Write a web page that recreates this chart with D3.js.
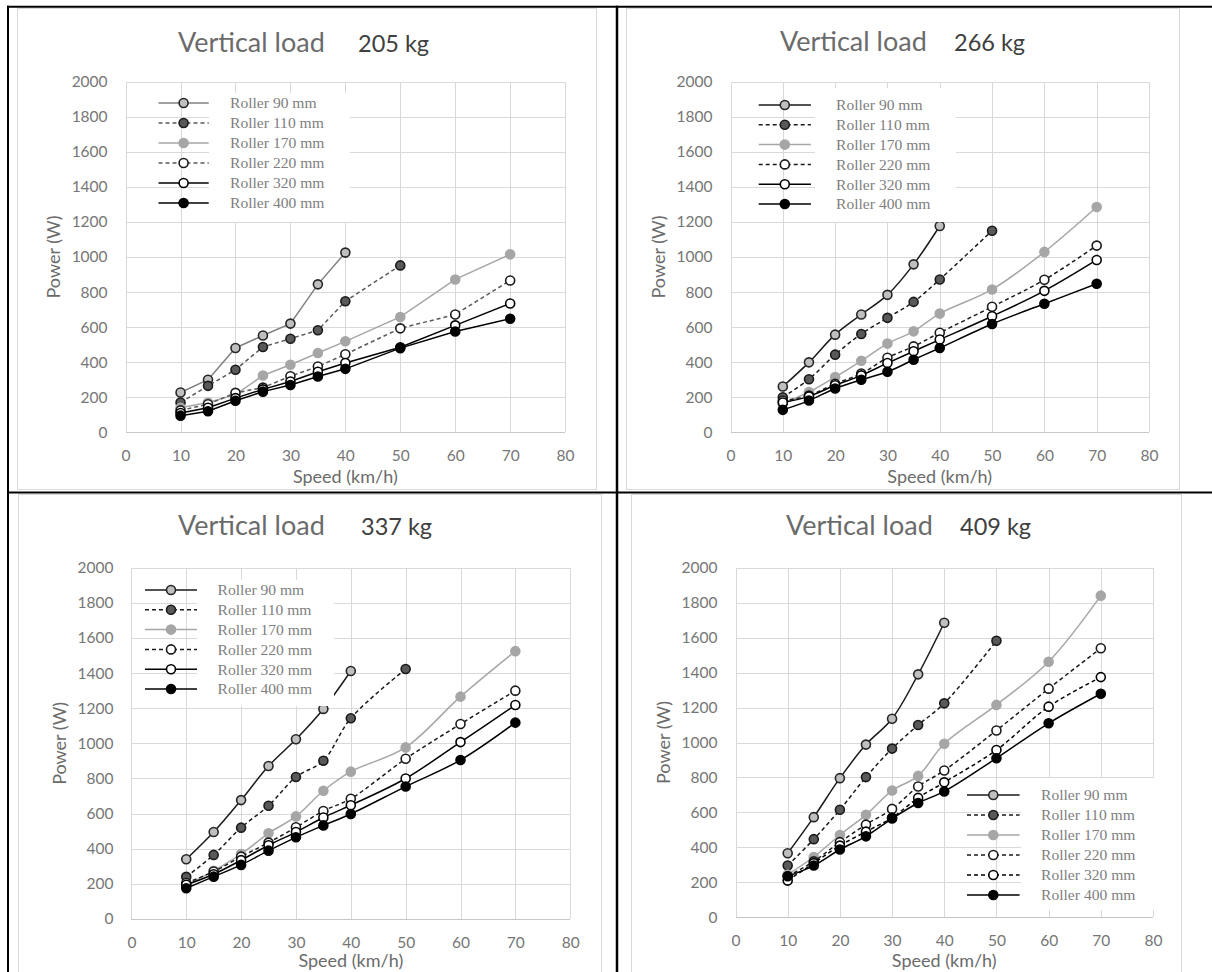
<!DOCTYPE html>
<html>
<head>
<meta charset="utf-8">
<script src="https://cdn.jsdelivr.net/npm/d3@7"></script>
<style>
  body { margin: 0; background: #fff; }
  svg { display: block; }
  .tick text { font-family: Lato, "Open Sans", sans-serif; font-size: 15.5px; fill: #767676; }
  .tick line { stroke: #d9d9d9; shape-rendering: crispEdges; }
  .axis-title { font-family: Lato, "Open Sans", sans-serif; font-size: 18px; fill: #6b6b6b; }
  .legend text { font-family: "Liberation Serif", "Times New Roman", serif; font-size: 15.6px; fill: #7f7f7f; }
</style>
</head>
<body>
<svg id="chart" width="1212" height="972"></svg>
<script>
var speed = [10, 15, 20, 25, 30, 35, 40, 50, 60, 70];
var rollers = ['Roller 90 mm', 'Roller 110 mm', 'Roller 170 mm', 'Roller 220 mm', 'Roller 320 mm', 'Roller 400 mm'];
var loadLabels = ['205 kg', '266 kg', '337 kg', '409 kg'];
var xTicks = [0, 10, 20, 30, 40, 50, 60, 70, 80];
var yTicks = [0, 200, 400, 600, 800, 1000, 1200, 1400, 1600, 1800, 2000];

// power (W) per roller, one row per roller (90 mm stops at 40 km/h, 110 mm at 50 km/h)
var power205 = [
  [227, 300, 481, 552, 620, 844, 1025],
  [170, 265, 357, 487, 534, 582, 748, 952],
  [140, 170, 215, 324, 385, 452, 519, 658, 872, 1015],
  [125, 160, 225, 255, 320, 375, 445, 593, 672, 866],
  [110, 140, 195, 245, 290, 345, 395, 485, 610, 735],
  [95, 120, 180, 232, 270, 318, 362, 480, 575, 648]
];
var power266 = [
  [261, 399, 557, 672, 784, 958, 1177],
  [200, 303, 443, 561, 653, 744, 872, 1150],
  [165, 230, 315, 408, 506, 576, 677, 815, 1029, 1285],
  [180, 210, 277, 335, 425, 490, 568, 716, 870, 1065],
  [170, 205, 268, 325, 395, 462, 529, 662, 807, 983],
  [128, 181, 250, 300, 345, 414, 481, 618, 733, 847]
];
var power337 = [
  [340, 495, 677, 871, 1023, 1196, 1412],
  [240, 365, 520, 645, 808, 901, 1143, 1423],
  [190, 275, 370, 488, 584, 730, 839, 977, 1266, 1525],
  [205, 270, 355, 435, 522, 615, 685, 912, 1110, 1300],
  [195, 255, 335, 420, 495, 578, 648, 800, 1007, 1218],
  [175, 241, 308, 389, 465, 533, 598, 754, 905, 1118]
];
var power409 = [
  [366, 573, 796, 988, 1136, 1390, 1685],
  [296, 447, 615, 802, 965, 1100, 1224, 1582],
  [245, 345, 471, 586, 725, 809, 993, 1215, 1462, 1840],
  [235, 320, 430, 530, 620, 748, 840, 1069, 1308, 1539],
  [210, 310, 410, 490, 570, 683, 772, 957, 1205, 1374],
  [235, 296, 388, 463, 565, 654, 720, 910, 1110, 1279]
];
var powerByLoad = [power205, power266, power337, power409];

// where each chart sits on the page
var panels = [
  { box: [17.5, 8.5, 596.5, 489.5], plot: [125.6, 81.7, 565.1, 432.3], title: [178, 358, 51.5], axY: 477,
    legend: { x0: 158.5, x1: 208.7, tx: 230, y: 103, dy: 20, cover: [209, 93, 350, 222] }, smooth: false },
  { box: [626.5, 8.5, 1179.5, 489.5], plot: [730.5, 81.7, 1149, 432.3], title: [780, 954, 50.5], axY: 477,
    legend: { x0: 758.7, x1: 810.9, tx: 836, y: 105, dy: 19.8, cover: [815, 88, 956, 222] }, smooth: true },
  { box: [18.5, 494.5, 601.5, 985], plot: [131.4, 567.7, 570.2, 919], title: [178, 361, 534.5], axY: 961,
    legend: { x0: 145, x1: 197, tx: 217.6, y: 590, dy: 19.8, cover: [197, 580, 334, 706] }, smooth: true },
  { box: [631.5, 494.5, 1181.5, 985], plot: [735.5, 567.7, 1153, 917.3], title: [786, 960, 535], axY: 961,
    legend: { x0: 967, x1: 1019.6, tx: 1041, y: 795, dy: 20, cover: [1021, 778, 1160, 910] }, smooth: true }
];

function seriesStyle(p, i) {
  var base = [
    { stroke: '#1a1a1a', dash: null, fill: '#bfbfbf', ring: '#262626' },
    { stroke: '#1a1a1a', dash: '4,3', fill: '#595959', ring: '#1a1a1a' },
    { stroke: '#a6a6a6', dash: null, fill: '#a6a6a6', ring: '#a6a6a6' },
    { stroke: '#1a1a1a', dash: '4,3', fill: '#ffffff', ring: '#1a1a1a' },
    { stroke: '#000000', dash: null, fill: '#ffffff', ring: '#000000' },
    { stroke: '#000000', dash: null, fill: '#000000', ring: '#000000' }
  ];
  var s = Object.assign({}, base[i]);
  if (p == 0) {
    if (i == 0) s.stroke = '#808080';
    if (i == 1 || i == 3) s.stroke = '#595959';
  }
  if (p == 3 && i == 4) s.dash = '4,3';
  return s;
}

var svg = d3.select('#chart');

//************************ table borders *************************/
var borders = svg.append('g').attr('stroke', '#000').attr('stroke-width', 2);
borders.append('line').attr('x1', 7).attr('x2', 1212).attr('y1', 6.7).attr('y2', 6.7);
borders.append('line').attr('x1', 8).attr('x2', 8).attr('y1', 5.7).attr('y2', 972);
borders.append('line').attr('x1', 617).attr('x2', 617).attr('y1', 5.7).attr('y2', 972).attr('stroke-width', 2.5);
borders.append('line').attr('x1', 7).attr('x2', 1212).attr('y1', 492.5).attr('y2', 492.5);

panels.forEach(function(pan, p) {
  var data = powerByLoad[p];
  var g = svg.append('g');

  g.append('rect')
    .attr('x', pan.box[0]).attr('y', pan.box[1])
    .attr('width', pan.box[2] - pan.box[0]).attr('height', pan.box[3] - pan.box[1])
    .attr('fill', '#fff').attr('stroke', '#d9d9d9').attr('stroke-width', 1);

  var x = d3.scaleLinear().domain([0, 80]).range([pan.plot[0], pan.plot[2]]);
  var y = d3.scaleLinear().domain([0, 2000]).range([pan.plot[3], pan.plot[1]]);

  //************************ gridlines + ticks *************************/
  var xAxis = g.append('g')
    .attr('transform', 'translate(0,' + pan.plot[3] + ')')
    .call(d3.axisBottom(x).tickValues(xTicks).tickFormat(d3.format('d'))
      .tickSize(-(pan.plot[3] - pan.plot[1])).tickPadding(18));
  xAxis.select('.domain').remove();

  var yAxis = g.append('g')
    .attr('transform', 'translate(' + pan.plot[0] + ',0)')
    .call(d3.axisLeft(y).tickValues(yTicks).tickFormat(d3.format('d'))
      .tickSize(-(pan.plot[2] - pan.plot[0])).tickPadding(18));
  yAxis.select('.domain').remove();
  yAxis.selectAll('.tick').filter(function(d) { return d == 0; }).select('line').style('stroke', '#c6c6c6');

  //************************ series *************************/
  var line = d3.line()
    .x(function(d) { return x(d[0]); })
    .y(function(d) { return y(d[1]); })
    .curve(pan.smooth ? d3.curveCatmullRom.alpha(0.5) : d3.curveLinear);

  data.forEach(function(vals, i) {
    var st = seriesStyle(p, i);
    var pts = vals.map(function(v, k) { return [speed[k], v]; });
    var sg = g.append('g');
    sg.append('path')
      .attr('d', line(pts))
      .attr('fill', 'none')
      .attr('stroke', st.stroke)
      .attr('stroke-width', 1.5)
      .attr('stroke-dasharray', st.dash);
    sg.selectAll('circle').data(pts).enter().append('circle')
      .attr('cx', function(d) { return x(d[0]); })
      .attr('cy', function(d) { return y(d[1]); })
      .attr('r', 4.5)
      .attr('fill', st.fill)
      .attr('stroke', st.ring)
      .attr('stroke-width', 1.6);
  });

  //************************ legend *************************/
  var lg = pan.legend;
  var leg = g.append('g').attr('class', 'legend');
  leg.append('rect')
    .attr('x', lg.cover[0]).attr('y', lg.cover[1])
    .attr('width', lg.cover[2] - lg.cover[0]).attr('height', lg.cover[3] - lg.cover[1])
    .attr('fill', '#fff');

  rollers.forEach(function(name, i) {
    var st = seriesStyle(p, i);
    var ry = lg.y + i * lg.dy;
    leg.append('line')
      .attr('x1', lg.x0).attr('x2', lg.x1).attr('y1', ry).attr('y2', ry)
      .attr('stroke', st.stroke).attr('stroke-width', 1.5)
      .attr('stroke-dasharray', st.dash);
    leg.append('circle')
      .attr('cx', (lg.x0 + lg.x1) / 2).attr('cy', ry).attr('r', 4.5)
      .attr('fill', st.fill).attr('stroke', st.ring).attr('stroke-width', 1.6);
    leg.append('text')
      .attr('x', lg.tx).attr('y', ry).attr('dy', '0.35em')
      .text(name);
  });

  //************************ titles *************************/
  g.append('text')
    .attr('x', pan.title[0]).attr('y', pan.title[2])
    .style('font-family', 'Lato, "Open Sans", sans-serif')
    .style('font-size', '27px').style('fill', '#6b6b6b')
    .text('Vertical load');
  g.append('text')
    .attr('x', pan.title[1]).attr('y', pan.title[2])
    .style('font-family', 'Lato, "Open Sans", sans-serif')
    .style('font-size', '23.5px').style('fill', '#404040')
    .text(loadLabels[p]);

  var cy = (pan.plot[1] + pan.plot[3]) / 2;
  var axX = pan.plot[0] - 71.5;
  g.append('text')
    .attr('class', 'axis-title')
    .attr('transform', 'translate(' + axX + ',' + cy + ') rotate(-90)')
    .attr('text-anchor', 'middle').attr('dy', '0.35em')
    .text('Power (W)');
  g.append('text')
    .attr('class', 'axis-title')
    .attr('x', (pan.plot[0] + pan.plot[2]) / 2)
    .attr('y', pan.axY).attr('dy', '0.35em')
    .attr('text-anchor', 'middle')
    .text('Speed (km/h)');
});
</script>
</body>
</html>
